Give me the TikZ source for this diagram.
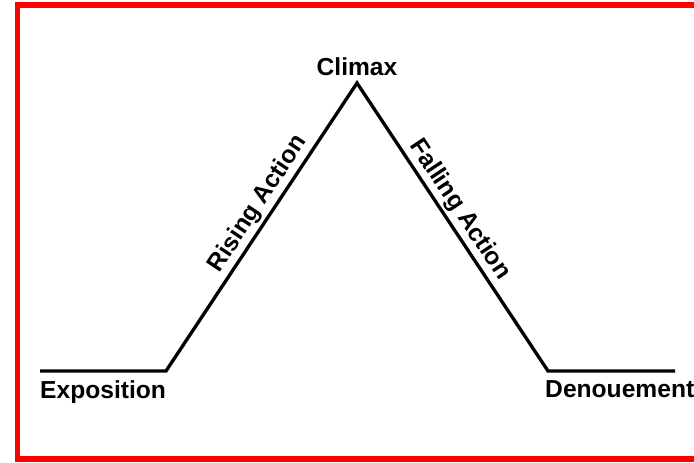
\documentclass[tikz,border=0pt]{standalone}
\usepackage{fontspec}
\setmainfont{Liberation Sans}
\usetikzlibrary{positioning}
\begin{document}
\begin{tikzpicture}[x=0.03cm, y=-0.03cm,
  stage/.style={font=\fontsize{21}{25}\selectfont\bfseries, inner sep=0pt},
  plotline/.style={line width=0.1cm, line join=miter},
  slopetext/.style={font=\fontsize{21}{25}\selectfont\bfseries,
                    inner sep=2pt, sloped, above}
]
  \useasboundingbox (0,0) rectangle (694,462);
  % frame
  \draw[red, line width=0.16cm] (17.5,5) rectangle (720,459);
  \coordinate (expoL) at (40,371);
  \coordinate (expoR) at (166,371);
  \coordinate (peak)  at (357,83);
  \coordinate (denoL) at (548,371);
  \coordinate (denoR) at (675,371);
  \draw[plotline] (expoL) -- (expoR)
        -- node[slopetext, pos=0.55] (rising) {Rising Action} (peak)
        -- node[slopetext, pos=0.47] (falling) {Falling Action} (denoL)
        -- (denoR);
  \node[stage, above=0.21cm of peak] (climax) {Climax};
  \node[stage, below right=0.27cm and 0cm of expoL] (expo) {Exposition};
  \node[stage, below right=0.27cm and -0.09cm of denoL] (deno) {Denouement};
\end{tikzpicture}
\end{document}
